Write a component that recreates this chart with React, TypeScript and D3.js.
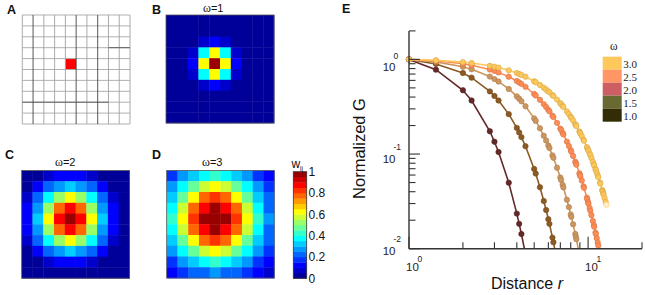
import React, { useEffect } from 'react';
import * as d3 from 'd3';

// ---------- Panel E data (lattice distance r, normalized G per omega) ----------
const distanceR = [
  1, 1.414, 2, 2.236, 2.828, 3, 3.162, 3.606, 4, 4.123, 4.243, 4.472, 5, 5.099, 5.385,
  5.657, 5.831, 6, 6.083, 6.325, 6.403, 6.708, 7, 7.071, 7.211, 7.28, 7.616, 7.81, 8,
  8.062, 8.246, 8.485, 8.544, 8.602, 8.944, 9, 9.055, 9.22, 9.434, 9.487, 9.849, 9.899,
  10, 10.05, 10.198, 10.296, 10.44, 10.63, 10.77, 10.817, 11, 11.045, 11.18, 11.314,
  11.402, 11.662, 11.705, 12, 12.042, 12.083, 12.166, 12.207, 12.369, 12.53, 12.649,
];
const gOmega1 = [1, 0.779, 0.472, 0.368, 0.174, 0.135, 0.105, 0.0498, 0.0235, 0.0183, 0.0143, 0.0087];
const gOmega15 = [
  1, 0.895, 0.717, 0.641, 0.459, 0.411, 0.368, 0.264, 0.189, 0.169, 0.151, 0.121, 0.0695,
  0.0622, 0.0446, 0.0319, 0.0256, 0.0205, 0.0183, 0.0131, 0.0117, 0.0075,
];
const gOmega2 = [
  1, 0.942, 0.835, 0.787, 0.658, 0.619, 0.583, 0.487, 0.407, 0.384, 0.361, 0.32, 0.238,
  0.224, 0.187, 0.156, 0.139, 0.123, 0.116, 0.0968, 0.0912, 0.0717, 0.0565, 0.0532,
  0.0472, 0.0444, 0.0329, 0.0275, 0.023, 0.0217, 0.0181, 0.0143, 0.0134, 0.0126, 0.0088,
];
const gOmega25 = [
  1, 0.966, 0.9, 0.869, 0.782, 0.755, 0.729, 0.656, 0.591, 0.57, 0.551, 0.513, 0.431,
  0.416, 0.374, 0.337, 0.314, 0.293, 0.283, 0.2545, 0.2457, 0.2136, 0.1856, 0.1792,
  0.167, 0.1613, 0.1353, 0.1218, 0.1097, 0.1058, 0.0953, 0.0828, 0.08, 0.0772, 0.0626,
  0.0604, 0.0583, 0.0525, 0.0456, 0.044, 0.0345, 0.0333, 0.031, 0.0299, 0.0269, 0.0251,
  0.0226, 0.0196, 0.0177, 0.0171, 0.0148, 0.0143, 0.0129, 0.0116, 0.0108, 0.0088,
];
const gOmega3 = [
  1, 0.978, 0.936, 0.915, 0.856, 0.837, 0.819, 0.766, 0.717, 0.701, 0.685, 0.656, 0.587,
  0.574, 0.537, 0.502, 0.48, 0.459, 0.449, 0.42, 0.411, 0.376, 0.344, 0.337, 0.322,
  0.315, 0.282, 0.264, 0.247, 0.241, 0.226, 0.2065, 0.202, 0.1975, 0.173, 0.169, 0.165,
  0.1546, 0.1415, 0.1384, 0.1184, 0.1158, 0.1108, 0.1084, 0.1014, 0.097, 0.0907, 0.083,
  0.0776, 0.0759, 0.0695, 0.0679, 0.0636, 0.0595, 0.0569, 0.0498, 0.0487, 0.0417,
  0.0408, 0.0399, 0.0381, 0.0373, 0.0341, 0.0312, 0.0292,
];
const curveColors = ['#642828', '#8C5A23', '#CD965F', '#FF8C55', '#FFC85A'];
const legendOmega = ['3.0', '2.5', '2.0', '1.5', '1.0'];
const legendColors = ['#FFC85A', '#FF9664', '#CD5F64', '#696932', '#322D05'];
const xMajorExp = ['0', '1'];
const yMajorExp = ['0', '-1', '-2'];

// ---------- Panels B-D data (w_ij on a 10x10 lattice) ----------
const weightsOmega1 = [
  [0, 0, 0, 0, 0, 0, 0, 0, 0, 0],
  [0, 0, 0, 0.01, 0.01, 0.01, 0, 0, 0, 0],
  [0, 0, 0.02, 0.08, 0.14, 0.08, 0.02, 0, 0, 0],
  [0, 0.01, 0.08, 0.37, 0.61, 0.37, 0.08, 0.01, 0, 0],
  [0, 0.01, 0.14, 0.61, 1, 0.61, 0.14, 0.01, 0, 0],
  [0, 0.01, 0.08, 0.37, 0.61, 0.37, 0.08, 0.01, 0, 0],
  [0, 0, 0.02, 0.08, 0.14, 0.08, 0.02, 0, 0, 0],
  [0, 0, 0, 0.01, 0.01, 0.01, 0, 0, 0, 0],
  [0, 0, 0, 0, 0, 0, 0, 0, 0, 0],
  [0, 0, 0, 0, 0, 0, 0, 0, 0, 0],
];
const weightsOmega2 = [
  [0.02, 0.04, 0.08, 0.12, 0.14, 0.12, 0.08, 0.04, 0.02, 0.01],
  [0.04, 0.11, 0.2, 0.29, 0.32, 0.29, 0.2, 0.11, 0.04, 0.01],
  [0.08, 0.2, 0.37, 0.54, 0.61, 0.54, 0.37, 0.2, 0.08, 0.03],
  [0.12, 0.29, 0.54, 0.78, 0.88, 0.78, 0.54, 0.29, 0.12, 0.04],
  [0.14, 0.32, 0.61, 0.88, 1, 0.88, 0.61, 0.32, 0.14, 0.04],
  [0.12, 0.29, 0.54, 0.78, 0.88, 0.78, 0.54, 0.29, 0.12, 0.04],
  [0.08, 0.2, 0.37, 0.54, 0.61, 0.54, 0.37, 0.2, 0.08, 0.03],
  [0.04, 0.11, 0.2, 0.29, 0.32, 0.29, 0.2, 0.11, 0.04, 0.01],
  [0.02, 0.04, 0.08, 0.12, 0.14, 0.12, 0.08, 0.04, 0.02, 0.01],
  [0.01, 0.01, 0.03, 0.04, 0.04, 0.04, 0.03, 0.01, 0.01, 0],
];
const weightsOmega3 = [
  [0.17, 0.25, 0.33, 0.39, 0.41, 0.39, 0.33, 0.25, 0.17, 0.1],
  [0.25, 0.37, 0.49, 0.57, 0.61, 0.57, 0.49, 0.37, 0.25, 0.15],
  [0.33, 0.49, 0.64, 0.76, 0.8, 0.76, 0.64, 0.49, 0.33, 0.2],
  [0.39, 0.57, 0.76, 0.89, 0.95, 0.89, 0.76, 0.57, 0.39, 0.24],
  [0.41, 0.61, 0.8, 0.95, 1, 0.95, 0.8, 0.61, 0.41, 0.25],
  [0.39, 0.57, 0.76, 0.89, 0.95, 0.89, 0.76, 0.57, 0.39, 0.24],
  [0.33, 0.49, 0.64, 0.76, 0.8, 0.76, 0.64, 0.49, 0.33, 0.2],
  [0.25, 0.37, 0.49, 0.57, 0.61, 0.57, 0.49, 0.37, 0.25, 0.15],
  [0.17, 0.25, 0.33, 0.39, 0.41, 0.39, 0.33, 0.25, 0.17, 0.1],
  [0.1, 0.15, 0.2, 0.24, 0.25, 0.24, 0.2, 0.15, 0.1, 0.06],
];
const heatTitles = ['ω=1', 'ω=2', 'ω=3'];
const colorbarTickValues = [0, 0.2, 0.4, 0.6, 0.8, 1];
const colorbarTickLabels = ['0', '0.2', '0.4', '0.6', '0.8', '1'];
const jet20 = [
  '#000099', '#0000CC', '#0000FF', '#0033FF', '#0066FF', '#0099FF', '#00CCFF', '#00FFFF',
  '#33FFCC', '#66FF99', '#99FF66', '#CCFF33', '#FFFF00', '#FFCC00', '#FF9900', '#FF6600',
  '#FF3300', '#FF0000', '#CC0000', '#990000',
];
const latticeSize = 10;
const sourceCell = [4, 4];

const SANS = 'Arial, "Liberation Sans", Helvetica, sans-serif';
const SERIF = '"Times New Roman", "Liberation Serif", serif';

function Heatmap({ x0, y0, size, data, title, titleX, titleY }: any) {
  const color = d3.scaleQuantize<string>().domain([0, 1]).range(jet20);
  const bx = d3.scaleBand<number>().domain(d3.range(latticeSize)).range([x0, x0 + size]);
  const by = d3.scaleBand<number>().domain(d3.range(latticeSize)).range([y0, y0 + size]);
  return (
    <g>
      {data.map((row: number[], r: number) =>
        row.map((v: number, c: number) => (
          <rect key={r + '-' + c} x={bx(c)} y={by(r)} width={bx.bandwidth() + 0.4}
            height={by.bandwidth() + 0.4} fill={color(v)} />
        ))
      )}
      <rect x={x0} y={y0} width={size} height={size} fill="none" stroke="#555" strokeWidth={0.8} />
      <text x={titleX} y={titleY} fontFamily={SANS} fontSize={11} fill="#111">
        <tspan fontFamily={SERIF} fontSize={12}>{title.slice(0, 1)}</tspan>
        {title.slice(1)}
      </text>
    </g>
  );
}

export default function App() {
  useEffect(() => {
    document.body.style.margin = '0';
  }, []);

  // Panel A grid
  const gx = d3.scaleLinear().domain([0, latticeSize]).range([22.3, 130]);
  const gy = d3.scaleLinear().domain([0, latticeSize]).range([15, 124]);
  const darkCols = [1, 5, 7];

  // Colorbar
  const cb = d3.scaleLinear().domain([0, 1]).range([278.3, 171.7]);
  const cbBands = d3.range(jet20.length);

  // Panel E
  const x = d3.scaleLog().domain([1, 20]).range([409, 642]);
  const y = d3.scaleLog().domain([0.01, 2]).range([248.7, 30.9]);
  const line = d3.line<[number, number]>().x((d) => x(d[0])).y((d) => y(d[1]));
  const isMajor = (v: number) => Math.abs(Math.log10(v) - Math.round(Math.log10(v))) < 1e-9;
  const xt = x.ticks();
  const yt = y.ticks();
  const series = [gOmega1, gOmega15, gOmega2, gOmega25, gOmega3];
  const xMajors = xt.filter(isMajor);
  const yMajors = yt.filter(isMajor).sort((a, b) => b - a);
  const yShift = [0, -3, -5];

  return (
    <svg width={645} height={295} style={{ position: 'absolute', left: 0, top: 0, background: '#fff' }}
      xmlns="http://www.w3.org/2000/svg">
      <rect x={0} y={0} width={645} height={295} fill="#fff" />
      {/* Panel letters */}
      <g fontFamily={SANS} fontWeight="bold" fontSize={12.5} fill="#111">
        <text x={7} y={13.5}>A</text>
        <text x={152} y={13.5}>B</text>
        <text x={5} y={158.5}>C</text>
        <text x={152} y={158.5}>D</text>
        <text x={342} y={13}>E</text>
      </g>

      {/* Panel A */}
      <g>
        <rect x={gx(sourceCell[0])} y={gy(sourceCell[1])} width={gx(1) - gx(0)} height={gy(1) - gy(0)} fill="#FF0000" />
        {d3.range(latticeSize + 1).map((i) => (
          <line key={'h' + i} x1={gx(0)} x2={gx(latticeSize)} y1={gy(i)} y2={gy(i)}
            stroke="#A8A8A8" strokeWidth={0.9} />
        ))}
        {d3.range(latticeSize + 1).map((i) => (
          <line key={'v' + i} x1={gx(i)} x2={gx(i)} y1={gy(0)} y2={gy(latticeSize)}
            stroke={darkCols.includes(i) ? '#444' : '#A0A0A0'} strokeWidth={0.9} />
        ))}
        <line x1={gx(0)} x2={gx(8)} y1={gy(8)} y2={gy(8)} stroke="#555" strokeWidth={0.9} />
        <line x1={gx(8)} x2={gx(10)} y1={gy(3)} y2={gy(3)} stroke="#555" strokeWidth={0.9} />
      </g>

      {/* Panels B, C, D */}
      <Heatmap x0={166} y0={15} size={108} data={weightsOmega1} title={heatTitles[0]} titleX={203} titleY={12} />
      <Heatmap x0={21.7} y0={170.5} size={107.7} data={weightsOmega2} title={heatTitles[1]} titleX={55} titleY={166} />
      <Heatmap x0={166.7} y0={170.5} size={107.5} data={weightsOmega3} title={heatTitles[2]} titleX={202} titleY={166} />

      {/* Colorbar */}
      <g>
        {cbBands.map((i) => (
          <rect key={i} x={293.3} y={cb((i + 1) / jet20.length)} width={13.4}
            height={cb(0) - cb(1 / jet20.length) + 0.3} fill={jet20[i]} />
        ))}
        <rect x={293.3} y={cb(1)} width={13.4} height={cb(0) - cb(1)} fill="none" stroke="#333" strokeWidth={0.8} />
        {colorbarTickValues.map((v, i) => (
          <text key={i} x={308.5} y={cb(v)} dy="0.36em" fontFamily={SANS} fontSize={12} fill="#111">
            {colorbarTickLabels[i]}
          </text>
        ))}
        <text x={291.5} y={167.5} fontFamily={SANS} fontSize={12} fill="#111">w</text>
        <text x={300} y={170.5} fontFamily={SANS} fontSize={6.5} fill="#111">ij</text>
      </g>

      {/* Panel E */}
      <defs>
        <clipPath id="eclip">
          <rect x={398} y={25} width={247} height={248.7 - 25} />
        </clipPath>
      </defs>
      <g clipPath="url(#eclip)">
        {series.map((s, k) => {
          const pts = s.map((g, i) => [distanceR[i], g] as [number, number]);
          const c = curveColors[k];
          const dark = d3.color(c)!.darker(0.5).formatHex();
          return (
            <g key={k}>
              <path d={line(pts) || ''} fill="none" stroke={c} strokeWidth={1.6} />
              {pts.map((p, i) => (
                <circle key={i} cx={x(p[0])} cy={y(p[1])} r={2.7}
                  fill={k === 4 && i === pts.length - 1 ? '#FFEFD0' : c}
                  stroke={k === 4 && i === pts.length - 1 ? c : dark} strokeWidth={0.6} />
              ))}
            </g>
          );
        })}
      </g>
      {/* axes */}
      <g stroke="#333" strokeWidth={1.4} fill="none">
        <line x1={x(1)} x2={x(1)} y1={y(2)} y2={y(0.01)} />
        <line x1={x(1)} x2={x(20)} y1={y(0.01)} y2={y(0.01)} />
        {xt.map((v, i) => (
          <line key={'xt' + i} x1={x(v)} x2={x(v)} y1={y(0.01)} y2={y(0.01) - (isMajor(v) ? 12 : 6.5)} strokeWidth={1.1} />
        ))}
        {yt.map((v, i) => (
          <line key={'yt' + i} x1={x(1)} x2={x(1) + (isMajor(v) ? 11 : 6.5)} y1={y(v)} y2={y(v)} strokeWidth={1.1} />
        ))}
      </g>
      <g fontFamily={SANS} fill="#222">
        {xMajors.map((v, i) => (
          <g key={'xl' + i}>
            <text x={x(v) - 3} y={271} fontSize={11.5}>10</text>
            <text x={x(v) + 8.5} y={262} fontSize={8.5}>{xMajorExp[i]}</text>
          </g>
        ))}
        {yMajors.map((v, i) => (
          <g key={'yl' + i}>
            <text x={395.5} y={y(v) + 11.5 + yShift[i]} fontSize={11.5} textAnchor="end">10</text>
            <text x={393.5} y={y(v) + yShift[i] * 1.3} fontSize={8.5}>{yMajorExp[i]}</text>
          </g>
        ))}
        <text transform={`translate(365,148.5) rotate(-90)`} textAnchor="middle" fontSize={16.5} fill="#111">
          Normalized G
        </text>
        <text x={491} y={289} fontSize={16} fill="#111">
          Distance <tspan fontStyle="italic">r</tspan>
        </text>
      </g>

      {/* Legend */}
      <g>
        <text x={610} y={50} fontFamily={SERIF} fontSize={11.5} fill="#222">ω</text>
        {legendOmega.map((lab, i) => (
          <g key={lab}>
            <rect x={602.7} y={56.7 + i * 13} width={19} height={13} fill={legendColors[i]} />
            <text x={623.3} y={68.3 + i * 13} fontFamily={SERIF} fontSize={11} fill="#222">{lab}</text>
          </g>
        ))}
      </g>
    </svg>
  );
}
